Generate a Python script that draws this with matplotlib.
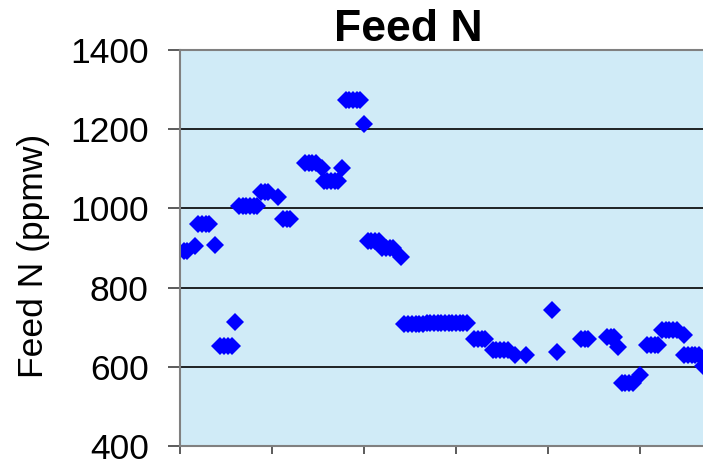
import matplotlib
matplotlib.use("Agg")
import matplotlib.pyplot as plt

plt.rcParams['font.family'] = ['Liberation Sans', 'DejaVu Sans']

# sample day and feed nitrogen (ppmw)
days = [1, 2, 4,
        5, 6, 7, 8, 9.5,
        11, 12, 13, 14, 15,
        16, 17, 18, 19, 20, 21,
        22, 23, 24, 26.5,
        28, 29, 30,
        34, 35, 36, 37, 38.5,
        39, 40, 41, 42, 43, 44,
        45, 46, 47, 48, 49, 50,
        51, 52, 53, 54,
        55, 56, 57, 58, 60,
        61, 62, 63, 64, 65, 66,
        67, 68, 69, 70, 71, 72, 73, 74, 75,
        76, 77, 78,
        80, 81, 82, 83,
        85, 86, 87, 88, 89, 91, 94,
        101, 102.5,
        109, 110, 111,
        116, 117, 118, 119,
        120, 121, 122, 123, 125,
        127, 128, 129, 130,
        131, 132, 133, 134, 135, 137,
        137, 138, 139, 140, 141, 142]
feed_n = [892, 892, 905,
          961, 961, 961, 961, 908,
          652, 652, 652, 652, 712,
          1007, 1007, 1007, 1007, 1007, 1007,
          1041, 1041, 1041, 1030,
          974, 974, 974,
          1115, 1115, 1115, 1115, 1103,
          1069, 1069, 1069, 1069, 1069, 1103,
          1273, 1273, 1273, 1273, 1273, 1214,
          918, 918, 918, 918,
          901, 901, 901, 901, 878,
          707, 707, 707, 707, 707, 707,
          711, 711, 711, 711, 711, 711, 711, 711, 711,
          710, 710, 710,
          671, 671, 671, 671,
          643, 643, 643, 643, 643, 630, 631,
          744, 637,
          669, 669, 669,
          675, 675, 675, 651,
          560, 560, 560, 560, 580,
          656, 656, 656, 656,
          692, 692, 692, 692, 692, 680,
          631, 631, 631, 631, 631, 603]

fig = plt.figure(figsize=(7.03, 4.63), dpi=100)
# plot area runs past the right edge of the figure
ax = fig.add_axes([180 / 703, 17 / 463, 552 / 703, 396 / 463])
ax.set_facecolor('#d0ebf7')

ax.plot(days, feed_n, linestyle='none', marker='D', markersize=8.8,
        color='#0000ff', markeredgewidth=0)

ax.set_xlim(0, 150)
ax.set_ylim(400, 1400)
ax.set_xticks(range(0, 151, 25))
ax.set_xticklabels([])
ax.set_yticks(range(400, 1401, 200))

ax.yaxis.grid(True, color='black', linewidth=1.2)
ax.set_axisbelow(True)

for side in ['left', 'bottom', 'top', 'right']:
    ax.spines[side].set_color('#808080')
    ax.spines[side].set_linewidth(1.5)

ax.tick_params(axis='y', direction='out', length=8.5, width=1.2, color='#404040',
               labelsize=25.5, pad=14)
ax.tick_params(axis='x', direction='out', length=6, width=1.2, color='#404040')

ax.set_ylabel('Feed N (ppmw)', fontsize=25.5)
ax.yaxis.set_label_coords((50 - 180) / 552, 0.48)
ax.set_title('Feed N', fontsize=32, fontweight='bold', pad=5,
             x=(408 - 180) / 552)

fig.savefig('out.png', dpi=100)
